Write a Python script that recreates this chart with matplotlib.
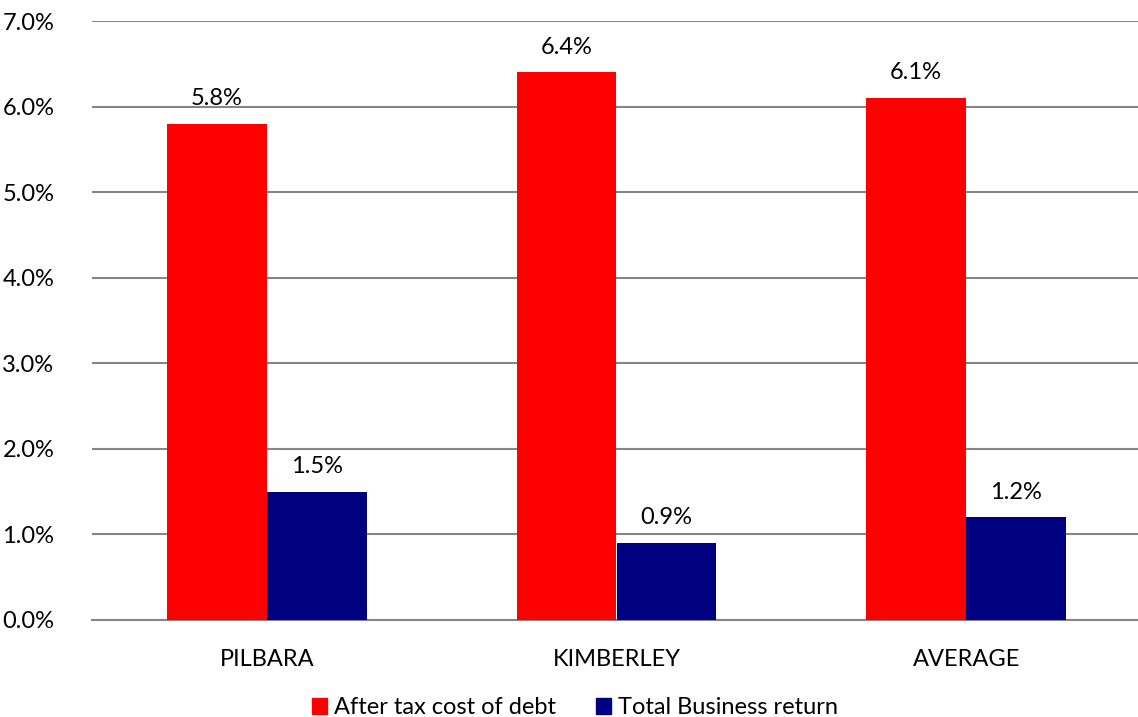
import matplotlib.pyplot as plt
import numpy as np
from matplotlib.ticker import FuncFormatter
from matplotlib.patches import Patch

regions = ['PILBARA', 'KIMBERLEY', 'AVERAGE']
cost_of_debt = [5.8, 6.4, 6.1]
business_return = [1.5, 0.9, 1.2]
series_names = ['After tax cost of debt', 'Total Business return']
colors = ['#ff0000', '#000080']

plt.rcParams['font.family'] = ['Lato', 'DejaVu Sans']

fig = plt.figure(figsize=(11.38, 7.17), dpi=100)
ax = fig.add_axes([92 / 1138, 1 - 620 / 717, (1141 - 92) / 1138, 599 / 717])

x = np.arange(len(regions))
w = 100 / 350

for offset, vals, c in [(-w / 2, cost_of_debt, colors[0]), (w / 2, business_return, colors[1])]:
    bars = ax.bar(x + offset, vals, width=w, color=c, zorder=3)
    for b, v in zip(bars, vals):
        ax.text(b.get_x() + b.get_width() / 2, v + 0.17, f'{v:.1f}%',
                ha='center', va='bottom', fontsize=17, color='black')

ax.set_xlim(-0.5, 2.5)
ax.set_ylim(0, 7)
ax.set_yticks(np.arange(0, 8, 1))
ax.yaxis.set_major_formatter(FuncFormatter(lambda v, _: f'{v:.1f}%'))
ax.set_xticks(x)
ax.set_xticklabels(regions)
ax.grid(axis='y', color='#868686', linewidth=1.5, zorder=0)
ax.tick_params(length=0, labelsize=17, colors='black')
ax.tick_params(axis='y', pad=27)
ax.tick_params(axis='x', pad=21)
for s in ['top', 'right', 'left']:
    ax.spines[s].set_visible(False)
ax.spines['bottom'].set_color('#868686')
ax.spines['bottom'].set_linewidth(1.5)

handles = [Patch(color=c) for c in colors]
fig.legend(handles, series_names, loc='center', bbox_to_anchor=(575 / 1138, 1 - 708 / 717),
           ncol=2, frameon=False, fontsize=17, handlelength=0.65, handleheight=0.65,
           handletextpad=0.3, columnspacing=1.7)

fig.savefig('out.png', dpi=100)
